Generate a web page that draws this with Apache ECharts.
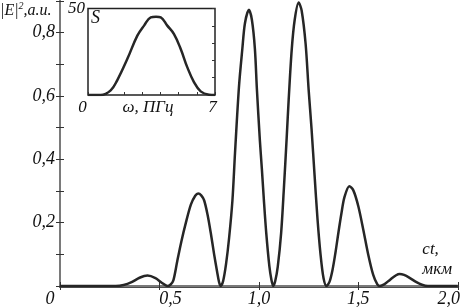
<!DOCTYPE html>
<html>
<head>
<meta charset="utf-8">
<script src="https://cdn.jsdelivr.net/npm/echarts@6/dist/echarts.min.js"></script>
<style>html,body{margin:0;padding:0;background:#fff}#c{width:463px;height:308px}</style>
</head>
<body>
<div id="c"></div>
<script>
// Main curve |E|^2 vs ct (µm)
const ctValues = [
  0, 0.1, 0.2, 0.28, 0.32, 0.36, 0.40, 0.44, 0.48, 0.51, 0.54,
  0.555, 0.57, 0.59, 0.61, 0.633, 0.658, 0.68, 0.695, 0.71, 0.725, 0.742, 0.758, 0.775, 0.79, 0.80, 0.808,
  0.82, 0.835, 0.85, 0.867, 0.88, 0.90, 0.917, 0.93, 0.95, 0.965, 0.98, 0.99, 1.005, 1.015, 1.025, 1.037, 1.053, 1.063, 1.072,
  1.082, 1.095, 1.112, 1.125, 1.14, 1.15, 1.165, 1.18, 1.2, 1.215, 1.235, 1.25, 1.265, 1.28, 1.295, 1.31, 1.325, 1.34,
  1.355, 1.37, 1.385, 1.40, 1.415, 1.43, 1.455, 1.475, 1.50, 1.525, 1.55, 1.575, 1.595, 1.608,
  1.63, 1.66, 1.69, 1.708, 1.73, 1.76, 1.79, 1.82, 1.85, 1.9, 2.0
];
const intensityValues = [
  0, 0, 0, 0, 0.003, 0.012, 0.026, 0.033, 0.025, 0.011, 0,
  0.004, 0.018, 0.08, 0.14, 0.2, 0.257, 0.285, 0.292, 0.286, 0.27, 0.225, 0.168, 0.1, 0.045, 0.012, 0,
  0.015, 0.07, 0.15, 0.27, 0.42, 0.63, 0.75, 0.83, 0.872, 0.84, 0.749, 0.622, 0.46, 0.37, 0.273, 0.168, 0.061, 0.02, 0,
  0.015, 0.061, 0.168, 0.3, 0.47, 0.59, 0.745, 0.84, 0.895, 0.87, 0.765, 0.622, 0.495, 0.35, 0.21, 0.1, 0.025, 0,
  0.013, 0.05, 0.105, 0.169, 0.229, 0.28, 0.315, 0.302, 0.252, 0.178, 0.099, 0.035, 0.006, 0,
  0.005, 0.02, 0.034, 0.038, 0.035, 0.025, 0.013, 0.004, 0, 0, 0
];
// Inset spectrum S vs omega (PHz)
const omegaValues = [0, 0.7, 1.25, 1.61, 2.17, 2.72, 3.09, 3.46, 3.75, 4.01, 4.37, 4.74, 5.11, 5.47, 5.84, 6.21, 6.67, 7];
const spectrumValues = [0, 0, 2.7, 8.5, 20.9, 34.3, 40.1, 44.9, 45.3, 44.9, 40.1, 35.2, 26.6, 16.1, 7.5, 2.1, 0.2, 0];
// Tick labels
const xTickLabels = ['0', '0,5', '1,0', '1,5', '2,0'];
const yTickLabels = ['0,2', '0,4', '0,6', '0,8'];
const insetXTickLabels = ['0', '7'];
const insetYTickLabel = '50';

const FF = "'Liberation Serif', 'Times New Roman', serif";
const mainData = ctValues.map((x, i) => [x, intensityValues[i]]);
const insetData = omegaValues.map((x, i) => [x, spectrumValues[i]]);
const gray = '#7a7a7a';
const txt = (size) => ({fontFamily: FF, fontStyle: 'italic', fontSize: size, color: '#111'});

const chart = echarts.init(document.getElementById('c'), null, {renderer: 'canvas'});
chart.setOption({
  animation: false,
  backgroundColor: '#fff',
  grid: [
    {left: 60, right: 2, top: 1, bottom: 22},
    {left: 88, top: 8, width: 127, height: 87, show: true, backgroundColor: '#fff', borderColor: '#222', borderWidth: 1.5}
  ],
  xAxis: [
    {gridIndex: 0, type: 'value', min: 0, max: 2, interval: 0.5, position: 'bottom',
      axisLine: {lineStyle: {color: '#111', width: 2.5}},
      axisTick: {inside: true, length: 4, lineStyle: {color: '#333', width: 1}},
      splitLine: {show: false},
      axisLabel: {margin: 4, showMinLabel: true, showMaxLabel: true,
        formatter: v => { const i = Math.round(v * 2); return '{s' + i + '|' + xTickLabels[i] + '}'; },
        rich: {
          s0: Object.assign(txt(18), {padding: [0, 20, 0, 0]}),
          s1: Object.assign(txt(18), {padding: [0, 0, 0, 22]}),
          s2: txt(18),
          s3: txt(18),
          s4: Object.assign(txt(18), {padding: [0, 18, 0, 0]})
        }
      }
    },
    {gridIndex: 0, type: 'value', min: 0, max: 2, interval: 0.5, position: 'top',
      axisLine: {lineStyle: {color: gray, width: 2}},
      axisTick: {inside: true, length: 4, lineStyle: {color: '#333', width: 1}},
      splitLine: {show: false}, axisLabel: {show: false}
    },
    {gridIndex: 1, type: 'value', min: 0, max: 7, interval: 1, position: 'bottom',
      axisLine: {show: false},
      axisTick: {inside: true, length: 3, lineStyle: {color: '#333', width: 1}},
      splitLine: {show: false},
      axisLabel: {margin: 4, showMinLabel: true, showMaxLabel: true,
        formatter: v => v === 0 ? '{a|' + insetXTickLabels[0] + '}' : (v === 7 ? '{b|' + insetXTickLabels[1] + '}' : ''),
        rich: {
          a: Object.assign(txt(17), {padding: [0, 11, 0, 0]}),
          b: Object.assign(txt(17), {padding: [0, 5, 0, 0]})
        }
      },
      name: 'ω, ПГц', nameLocation: 'middle', nameGap: 4, nameMoveOverlap: false,
      nameTextStyle: Object.assign(txt(17), {padding: [0, 7, 0, 0]})
    }
  ],
  yAxis: [
    {gridIndex: 0, type: 'value', min: 0, max: 0.9, interval: 0.1, position: 'left',
      axisLine: {show: true, lineStyle: {color: gray, width: 2}},
      axisTick: {show: true, inside: true, length: 4, lineStyle: {color: '#333', width: 1}},
      splitLine: {show: false},
      axisLabel: Object.assign(txt(18), {margin: 5,
        formatter: v => { const k = Math.round(v * 10); return (k % 2 === 0 && k > 0 && k < 9) ? yTickLabels[k / 2 - 1] : ''; }})
    },
    {gridIndex: 0, type: 'value', min: 0, max: 0.9, interval: 0.1, position: 'right',
      axisLine: {show: true, lineStyle: {color: gray, width: 2}},
      axisTick: {show: true, inside: true, length: 4, lineStyle: {color: '#333', width: 1}},
      splitLine: {show: false}, axisLabel: {show: false}
    },
    {gridIndex: 1, type: 'value', min: 0, max: 50, interval: 10, position: 'left',
      axisLine: {show: false}, axisTick: {show: false}, splitLine: {show: false},
      axisLabel: Object.assign(txt(17), {margin: 3, showMaxLabel: true, padding: [6, 0, 0, 0],
        formatter: v => v === 50 ? insetYTickLabel : ''})
    },
    {gridIndex: 1, type: 'value', min: 0, max: 50, interval: 10, position: 'right',
      axisLine: {show: false},
      axisTick: {show: true, inside: true, length: 3, lineStyle: {color: '#333', width: 1}},
      splitLine: {show: false}, axisLabel: {show: false}
    }
  ],
  series: [
    {type: 'line', xAxisIndex: 0, yAxisIndex: 0, data: mainData, showSymbol: false, smooth: 0.3,
      lineStyle: {color: '#262626', width: 2.5}, z: 3},
    {type: 'line', xAxisIndex: 2, yAxisIndex: 2, data: insetData, showSymbol: false, smooth: 0.4,
      lineStyle: {color: '#262626', width: 2.5}, z: 5}
  ],
  graphic: [
    {type: 'text', left: 0, top: 1, z: 10,
      style: {text: '|E|{s|2},a.u.', fontFamily: FF, fontStyle: 'italic', fontSize: 16, fill: '#111',
        rich: {s: {fontFamily: FF, fontStyle: 'italic', fontSize: 10, padding: [0, 0, 9, 0], fill: '#111'}}}},
    {type: 'text', right: 11, top: 240, z: 10,
      style: {text: 'ct,\nмкм', fontFamily: FF, fontStyle: 'italic', fontSize: 17, lineHeight: 20, fill: '#111', align: 'right'}},
    {type: 'text', left: 91, top: 9, z: 10,
      style: {text: 'S', fontFamily: FF, fontStyle: 'italic', fontSize: 18, fill: '#111'}}
  ]
});
</script>
</body>
</html>
